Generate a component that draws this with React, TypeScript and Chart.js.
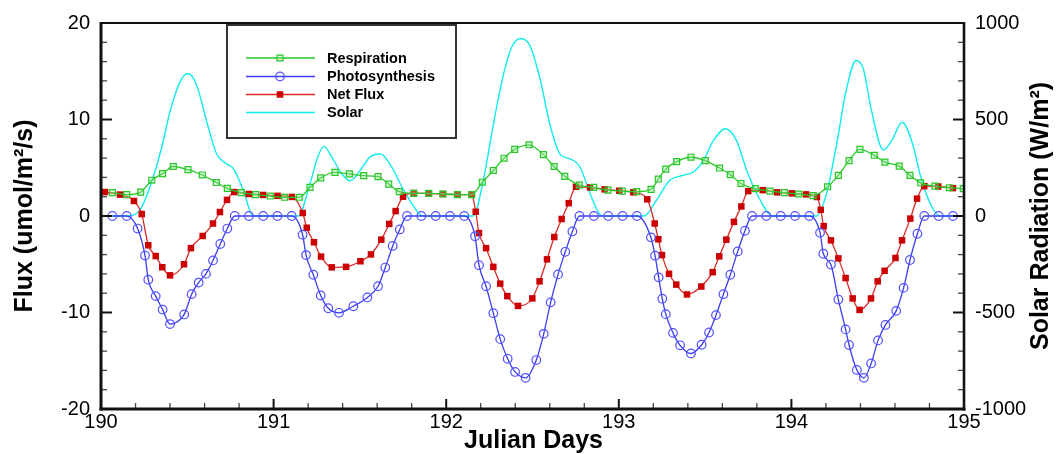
import React, { useEffect, useRef } from "react";
import { Chart, registerables } from "chart.js";

Chart.register(...registerables);

const FONT = "'Liberation Sans', Arial, Helvetica, sans-serif";

const X_MIN = 190;
const X_MAX = 195;
const FLUX_MIN = -20;
const FLUX_MAX = 20;
const SOLAR_MIN = -1000;
const SOLAR_MAX = 1000;

const X_TITLE = "Julian Days";
const Y_TITLE = "Flux (umol/m²/s)";
const Y1_TITLE = "Solar Radiation (W/m²)";

const SERIES_NAMES = ["Respiration", "Photosynthesis", "Net Flux", "Solar"];

const RESP_DAY = [
  190.066, 190.149, 190.23, 190.294, 190.357, 190.419, 190.504, 190.587, 190.668, 190.732,
  190.813, 190.896, 190.981, 191.064, 191.149, 191.211, 191.273, 191.356, 191.439, 191.522,
  191.605, 191.667, 191.728, 191.812, 191.899, 191.981, 192.065, 192.148, 192.209, 192.273,
  192.335, 192.397, 192.48, 192.563, 192.625, 192.687, 192.771, 192.855, 192.937, 193.02,
  193.104, 193.187, 193.229, 193.272, 193.335, 193.418, 193.501, 193.584, 193.646, 193.708,
  193.791, 193.876, 193.959, 194.042, 194.126, 194.21, 194.272, 194.334, 194.397, 194.48,
  194.542, 194.625, 194.687, 194.749, 194.832, 194.915, 194.996,
];
const RESP_VAL = [
  2.42, 2.21, 2.48, 3.71, 4.39, 5.13, 4.8, 4.25, 3.47, 2.86,
  2.42, 2.21, 2.07, 1.94, 1.94, 2.96, 3.95, 4.52, 4.36, 4.18,
  4.08, 3.3, 2.52, 2.35, 2.35, 2.28, 2.21, 2.21, 3.5, 4.72,
  5.99, 6.91, 7.38, 6.36, 5.13, 4.11, 3.2, 2.96, 2.68, 2.58,
  2.52, 2.76, 3.83, 4.86, 5.64, 6.09, 5.74, 4.97, 4.29, 3.37,
  2.83, 2.58, 2.42, 2.28, 2.11, 3.03, 4.21, 5.74, 6.91, 6.29,
  5.58, 5.17, 4.21, 3.44, 3.09, 2.93, 2.83,
];

const PHOTO_DAY = [
  190.066, 190.149, 190.212, 190.255, 190.274, 190.317, 190.357, 190.4, 190.482, 190.525,
  190.566, 190.608, 190.649, 190.691, 190.732, 190.775, 190.857, 190.94, 191.022, 191.105,
  191.168, 191.188, 191.23, 191.273, 191.317, 191.379, 191.462, 191.543, 191.605, 191.647,
  191.69, 191.731, 191.773, 191.856, 191.939, 192.022, 192.105, 192.167, 192.19, 192.231,
  192.273, 192.313, 192.356, 192.399, 192.46, 192.522, 192.565, 192.605, 192.648, 192.69,
  192.731, 192.772, 192.856, 192.939, 193.022, 193.105, 193.186, 193.21, 193.231, 193.252,
  193.272, 193.314, 193.355, 193.418, 193.48, 193.523, 193.563, 193.606, 193.646, 193.689,
  193.731, 193.772, 193.855, 193.938, 194.021, 194.104, 194.166, 194.185, 194.229, 194.272,
  194.314, 194.334, 194.379, 194.42, 194.462, 194.502, 194.545, 194.607, 194.65, 194.687,
  194.73, 194.77, 194.853, 194.936,
];
const PHOTO_VAL = [
  0, 0, -1.3, -4.1, -6.6, -8.3, -9.7, -11.2, -10.2, -8.1,
  -6.9, -6.0, -4.6, -2.9, -1.3, 0, 0, 0, 0, 0,
  -1.94, -4.05, -6.09, -8.23, -9.56, -10.03, -9.35, -8.44, -7.28, -5.34,
  -3.1, -1.39, 0, 0, 0, 0, 0, -2.1, -5.1, -7.28,
  -10.07, -12.76, -14.8, -16.16, -16.77, -14.93, -12.21, -8.95, -6.05, -3.71,
  -1.6, 0, 0, 0, 0, 0, -2.21, -4.11, -6.36, -8.57,
  -10.17, -12.11, -13.4, -14.25, -13.34, -12.07, -10.27, -8.1, -6.09, -3.67,
  -1.53, 0, 0, 0, 0, 0, -1.73, -3.91, -5.03, -8.66,
  -11.75, -13.37, -15.95, -16.77, -15.28, -12.89, -11.29, -9.83, -7.45, -4.56,
  -1.84, 0, 0, 0,
];

const NET_DAY = [
  190.023, 190.11, 190.191, 190.236, 190.274, 190.317, 190.355, 190.4, 190.481, 190.521,
  190.589, 190.649, 190.689, 190.73, 190.772, 190.856, 190.939, 191.023, 191.106, 191.169,
  191.192, 191.234, 191.275, 191.337, 191.42, 191.503, 191.564, 191.624, 191.67, 191.707,
  191.75, 191.813, 191.899, 191.981, 192.065, 192.148, 192.171, 192.19, 192.231, 192.273,
  192.313, 192.354, 192.416, 192.499, 192.541, 192.584, 192.626, 192.669, 192.71, 192.752,
  192.833, 192.918, 193.003, 193.084, 193.165, 193.208, 193.229, 193.25, 193.291, 193.333,
  193.395, 193.478, 193.544, 193.582, 193.623, 193.667, 193.71, 193.75, 193.834, 193.917,
  194.002, 194.085, 194.148, 194.17, 194.187, 194.229, 194.272, 194.314, 194.355, 194.395,
  194.461, 194.5, 194.54, 194.603, 194.641, 194.689, 194.728, 194.77, 194.851, 194.936,
];
const NET_VAL = [
  2.48, 2.22, 1.56, 0.2, -3.03, -4.15, -5.31, -6.15, -5.0, -3.33,
  -2.07, -0.78, 0.41, 1.67, 2.48, 2.28, 2.18, 2.09, 1.98, 0.31,
  -1.22, -2.72, -4.21, -5.32, -5.27, -4.69, -3.98, -2.45, -0.82, 0.51,
  2.0, 2.38, 2.35, 2.28, 2.21, 2.24, 0.44, -1.77, -3.33, -5.27,
  -7.01, -8.3, -9.32, -8.54, -6.77, -4.49, -2.18, -0.31, 1.33, 3.03,
  2.96, 2.76, 2.62, 2.45, 1.73, -0.78, -2.41, -4.05, -5.99, -7.11,
  -8.13, -7.31, -5.82, -4.18, -2.45, -0.61, 0.99, 2.58, 2.68, 2.45,
  2.35, 2.24, 1.97, 0.64, -1.05, -2.52, -4.39, -6.43, -8.54, -9.73,
  -8.54, -6.77, -5.68, -4.35, -2.52, -0.27, 1.8, 3.09, 3.06, 2.89,
];

const SOLAR_DAY = [
  190.0, 190.158, 190.226, 190.284, 190.352, 190.4, 190.458, 190.502, 190.554, 190.612,
  190.67, 190.728, 190.767, 190.824, 190.882, 191.143, 191.211, 191.259, 191.292, 191.337,
  191.395, 191.443, 191.501, 191.558, 191.62, 191.684, 191.742, 191.8, 191.848, 191.87,
  192.157, 192.215, 192.273, 192.331, 192.379, 192.432, 192.485, 192.543, 192.601, 192.659,
  192.717, 192.775, 192.833, 192.891, 192.91, 193.146, 193.219, 193.296, 193.374, 193.432,
  193.49, 193.547, 193.617, 193.683, 193.741, 193.799, 193.866, 193.89, 194.146, 194.204,
  194.262, 194.32, 194.374, 194.416, 194.465, 194.532, 194.58, 194.642, 194.697, 194.755,
  194.813, 194.861, 195.0,
];
const SOLAR_VAL = [
  0, 0, 32, 152, 356, 542, 695, 738, 679, 491,
  321, 270, 245, 134, 0, 0, 168, 313, 361, 305,
  219, 182, 236, 305, 321, 254, 152, 66, 7, 0,
  0, 185, 474, 730, 874, 920, 883, 713, 474, 321,
  296, 254, 117, 7, 0, 0, 83, 185, 211, 228,
  287, 389, 452, 389, 236, 117, 15, 0, 0, 117,
  372, 661, 806, 764, 542, 342, 389, 486, 389, 185,
  49, 0, 0,
];

const toPoints = (xs: number[], ys: number[]) => xs.map((x, i) => ({ x, y: ys[i] }));

const framePlugin = {
  id: "framePlugin",
  afterDraw(chart: any) {
    const { ctx, chartArea: a, scales } = chart;
    const sx = scales.x;
    const sy = scales.y;
    const sy1 = scales.y1;
    ctx.save();
    const seg = (x0: number, y0: number, x1: number, y1: number, w: number, c: string) => {
      ctx.strokeStyle = c;
      ctx.lineWidth = w;
      ctx.beginPath();
      ctx.moveTo(x0, y0);
      ctx.lineTo(x1, y1);
      ctx.stroke();
    };
    // left axis ticks
    for (let v = FLUX_MIN; v <= FLUX_MAX; v += 2) {
      const p = sy.getPixelForValue(v);
      const major = v % 10 === 0;
      seg(a.left, p, a.left + (major ? 11 : 6), p, major ? 2 : 1.3, major ? "#111" : "#444");
    }
    // right axis ticks
    for (let v = SOLAR_MIN; v <= SOLAR_MAX; v += 100) {
      const p = sy1.getPixelForValue(v);
      const major = v % 500 === 0;
      seg(a.right, p, a.right - (major ? 11 : 6), p, major ? 2 : 1.3, major ? "#111" : "#444");
    }
    // bottom ticks
    for (let i = 0; i <= 25; i++) {
      const v = X_MIN + i * 0.2;
      const p = sx.getPixelForValue(v);
      const major = i % 5 === 0;
      seg(p, a.bottom, p, a.bottom - (major ? 10 : 6), major ? 2 : 1.3, major ? "#111" : "#444");
    }
    // frame
    seg(a.left, a.top, a.right, a.top, 2, "#111");
    seg(a.left, a.top - 1, a.left, a.bottom + 1.5, 3, "#111");
    seg(a.left - 1.5, a.bottom, a.right + 1.5, a.bottom, 3, "#111");
    seg(a.right, a.top - 1, a.right, a.bottom + 1.5, 2.6, "#111");

    // axis titles
    ctx.fillStyle = "#000";
    ctx.textAlign = "center";
    ctx.textBaseline = "middle";
    ctx.font = `bold 25px ${FONT}`;
    ctx.save();
    ctx.translate(25, (a.top + a.bottom) / 2);
    ctx.rotate(-Math.PI / 2);
    ctx.fillText(Y_TITLE, 0, 0);
    ctx.restore();
    ctx.save();
    ctx.translate(1041, (a.top + a.bottom) / 2);
    ctx.rotate(-Math.PI / 2);
    ctx.fillText(Y1_TITLE, 0, 0);
    ctx.restore();
    ctx.font = `bold 25px ${FONT}`;
    ctx.fillText(X_TITLE, (a.left + a.right) / 2 + 1, 441);

    // legend box
    const bx = 227, by = 25, bw = 229, bh = 113;
    ctx.fillStyle = "#fff";
    ctx.fillRect(bx, by, bw, bh);
    ctx.strokeStyle = "#333";
    ctx.lineWidth = 2;
    ctx.strokeRect(bx, by, bw, bh);
    const rows = [58, 76.5, 94.5, 112.5];
    chart.data.datasets.forEach((ds: any, i: number) => {
      const yy = rows[i];
      seg(246, yy, 315, yy, 1.4, ds.borderColor);
      const r = ds.pointRadius || 0;
      if (r > 0) {
        ctx.lineWidth = ds.pointBorderWidth || 1;
        ctx.strokeStyle = ds.pointBorderColor;
        ctx.fillStyle = ds.pointBackgroundColor;
        ctx.beginPath();
        if (ds.pointStyle === "circle") {
          ctx.arc(280, yy, r, 0, Math.PI * 2);
        } else {
          const s = r * Math.SQRT1_2;
          ctx.rect(280 - s, yy - s, 2 * s, 2 * s);
        }
        ctx.fill();
        if (ds.pointBorderWidth) ctx.stroke();
      }
      ctx.fillStyle = "#000";
      ctx.textAlign = "left";
      ctx.font = `bold 14.5px ${FONT}`;
      ctx.fillText(ds.label, 327, yy + 0.5);
    });
    ctx.restore();
  },
};

export default function App() {
  const ref = useRef<HTMLCanvasElement | null>(null);
  useEffect(() => {
    document.body.style.margin = "0";
    const canvas = ref.current;
    if (!canvas) return;
    const tickFont = { family: FONT, size: 20 };
    const plain = (v: any) => String(v);
    const chart = new Chart(canvas, {
      type: "line",
      data: {
        datasets: [
          {
            label: SERIES_NAMES[0],
            data: toPoints(RESP_DAY, RESP_VAL),
            yAxisID: "y",
            borderColor: "rgb(40,200,40)",
            borderWidth: 1.3,
            pointStyle: "rect",
            pointRadius: 4.2,
            pointBorderWidth: 1.2,
            pointBorderColor: "rgb(40,200,40)",
            pointBackgroundColor: "rgba(150,230,150,0.35)",
            cubicInterpolationMode: "monotone",
          },
          {
            label: SERIES_NAMES[1],
            data: toPoints(PHOTO_DAY, PHOTO_VAL),
            yAxisID: "y",
            borderColor: "rgb(60,60,240)",
            borderWidth: 1.3,
            pointStyle: "circle",
            pointRadius: 4.3,
            pointBorderWidth: 1.2,
            pointBorderColor: "rgb(80,80,255)",
            pointBackgroundColor: "rgba(255,255,255,0)",
            cubicInterpolationMode: "monotone",
          },
          {
            label: SERIES_NAMES[2],
            data: toPoints(NET_DAY, NET_VAL),
            yAxisID: "y",
            borderColor: "rgb(220,40,40)",
            borderWidth: 1.3,
            pointStyle: "rect",
            pointRadius: 4.6,
            pointBorderWidth: 0,
            pointBorderColor: "#cc0000",
            pointBackgroundColor: "#cc0000",
            cubicInterpolationMode: "monotone",
          },
          {
            label: SERIES_NAMES[3],
            data: toPoints(SOLAR_DAY, SOLAR_VAL),
            yAxisID: "y1",
            borderColor: "rgb(20,235,235)",
            borderWidth: 1.4,
            pointRadius: 0,
            cubicInterpolationMode: "monotone",
          },
        ],
      },
      options: {
        responsive: false,
        animation: false,
        devicePixelRatio: 1,
        layout: { padding: { top: 17, left: 0, right: 0, bottom: 0 } },
        plugins: { legend: { display: false }, tooltip: { enabled: false } },
        scales: {
          x: {
            type: "linear",
            min: X_MIN,
            max: X_MAX,
            grid: { display: false, drawTicks: false },
            border: { display: false },
            ticks: { stepSize: 1, font: tickFont, color: "#000", padding: 1, maxRotation: 0, callback: plain },
            afterFit: (s: any) => { s.height = 45; },
          },
          y: {
            type: "linear",
            position: "left",
            min: FLUX_MIN,
            max: FLUX_MAX,
            grid: { display: false, drawTicks: false },
            border: { display: false },
            ticks: { stepSize: 10, font: tickFont, color: "#000", padding: 11, callback: plain },
            afterFit: (s: any) => { s.width = 101; },
          },
          y1: {
            type: "linear",
            position: "right",
            min: SOLAR_MIN,
            max: SOLAR_MAX,
            grid: { display: false, drawTicks: false },
            border: { display: false },
            ticks: { stepSize: 500, font: tickFont, color: "#000", padding: 11, callback: plain },
            afterFit: (s: any) => { s.width = 93; },
          },
        },
      },
      plugins: [framePlugin],
    } as any);
    return () => chart.destroy();
  }, []);
  return (
    <div style={{ width: 1057, height: 454 }}>
      <canvas ref={ref} width={1057} height={454} style={{ display: "block" }} />
    </div>
  );
}
